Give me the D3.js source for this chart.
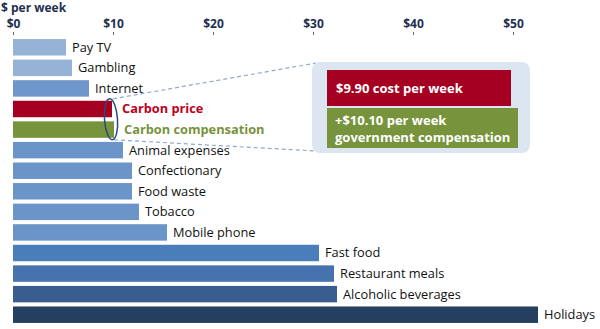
<!DOCTYPE html>
<html><head><meta charset="utf-8">
<script src="https://cdn.jsdelivr.net/npm/d3@7"></script>
<style>body{margin:0;background:#fff;}svg{display:block;font-family:"Open Sans",sans-serif;}</style>
</head><body><svg id="c" width="600" height="329"></svg>
<script>
const categories = ["Pay TV","Gambling","Internet","Carbon price","Carbon compensation","Animal expenses","Confectionary","Food waste","Tobacco","Mobile phone","Fast food","Restaurant meals","Alcoholic beverages","Holidays"];
const values = [5.3,5.9,7.6,9.9,10.1,11.0,11.9,11.9,12.6,15.4,30.6,32.1,32.4,52.5];
const barColors = ["#95b3d7","#95b3d7","#6f97cb","#a50021","#77933c","#6b95c9","#6b95c9","#6b95c9","#6b95c9","#6b95c9","#4a7ebb","#4672ad","#395d8f","#243f60"];
const labelColors = ["#111","#111","#111","#c00020","#77933c","#111","#111","#111","#111","#111","#111","#111","#111","#111"];
const tickValues = [0,10,20,30,40,50];
const tickLabels = ["$0","$10","$20","$30","$40","$50"];
const axisTitle = "$ per week";
const calloutLines = [["$9.90 cost per week"],["+$10.10 per week","government compensation"]];

const svg = d3.select("#c");
const x = d3.scaleLinear().domain([0,50]).range([13,513]);
const y = d3.scaleBand().domain(categories).range([37,325]).paddingInner(0.2).paddingOuter(0.1);

// axis
const axis = d3.axisTop(x).tickValues(tickValues).tickFormat((d,i)=>tickLabels[i]).tickSize(3).tickPadding(4);
const ag = svg.append("g").attr("transform","translate(0,35)").call(axis);
ag.select(".domain").remove();
ag.selectAll(".tick line").attr("stroke","#666");
ag.selectAll(".tick text").attr("font-size",12).attr("font-weight","bold").attr("fill","#1f3050").attr("font-family","'Open Sans',sans-serif");
svg.append("text").attr("x",1).attr("y",11.5).attr("font-size",12).attr("font-weight","bold").attr("fill","#1f3050").text(axisTitle);

// bars
svg.selectAll("rect.bar").data(categories).join("rect").attr("class","bar")
  .attr("x",x(0)).attr("y",d=>y(d)).attr("height",y.bandwidth())
  .attr("width",(d,i)=>x(values[i])-x(0)).attr("fill",(d,i)=>barColors[i]);

svg.selectAll("text.lab").data(categories).join("text").attr("class","lab")
  .attr("x",(d,i)=>x(values[i])+((i===3||i===4)?10:6)).attr("y",d=>y(d)+y.bandwidth()/2).attr("dy","0.35em")
  .attr("font-size",12.8).attr("fill",(d,i)=>labelColors[i])
  .attr("font-weight",(d,i)=>(i===3||i===4)?"bold":"normal").text(d=>d);

// callout
const cp = categories[3], cc = categories[4];
const ex = x(values[3]) - 1;
const ey = (y(cp)+y(cc)+y.bandwidth())/2;
const ery = (y(cc)+y.bandwidth()-y(cp))/2 + 2;
const bx0 = x(29.9), bx1 = x(51.7), by0 = 62, by1 = 153;
svg.append("line").attr("x1",ex+2).attr("y1",ey-ery).attr("x2",bx0+4).attr("y2",by0+1).attr("stroke","#8eaacc").attr("stroke-dasharray","4,3").attr("stroke-width",1.2);
svg.append("line").attr("x1",ex+3).attr("y1",ey+ery).attr("x2",bx0+4).attr("y2",by1-2).attr("stroke","#8eaacc").attr("stroke-dasharray","4,3").attr("stroke-width",1.2);
svg.append("ellipse").attr("cx",ex).attr("cy",ey).attr("rx",6.5).attr("ry",ery).attr("fill","none").attr("stroke","#2b4a7e").attr("stroke-width",1.5)
  .attr("transform",`rotate(-4,${ex},${ey})`);
svg.append("rect").attr("x",bx0).attr("y",by0).attr("width",bx1-bx0).attr("height",by1-by0).attr("rx",8).attr("fill","#dce6f1");
const rx0 = x(31.4);
svg.append("rect").attr("x",rx0).attr("y",70).attr("width",x(49.8)-rx0).attr("height",36).attr("fill","#a50021");
svg.append("rect").attr("x",rx0).attr("y",108).attr("width",x(50.5)-rx0).attr("height",40).attr("fill","#77933c");
svg.append("text").attr("x",rx0+9).attr("y",92.5).attr("fill","#fff").attr("font-weight","bold").attr("font-size",13).text(calloutLines[0][0]);
calloutLines[1].forEach((t,i)=>svg.append("text").attr("x",rx0+8).attr("y",124.5+i*17).attr("fill","#fff").attr("font-weight","bold").attr("font-size",13).text(t));
</script></body></html>
